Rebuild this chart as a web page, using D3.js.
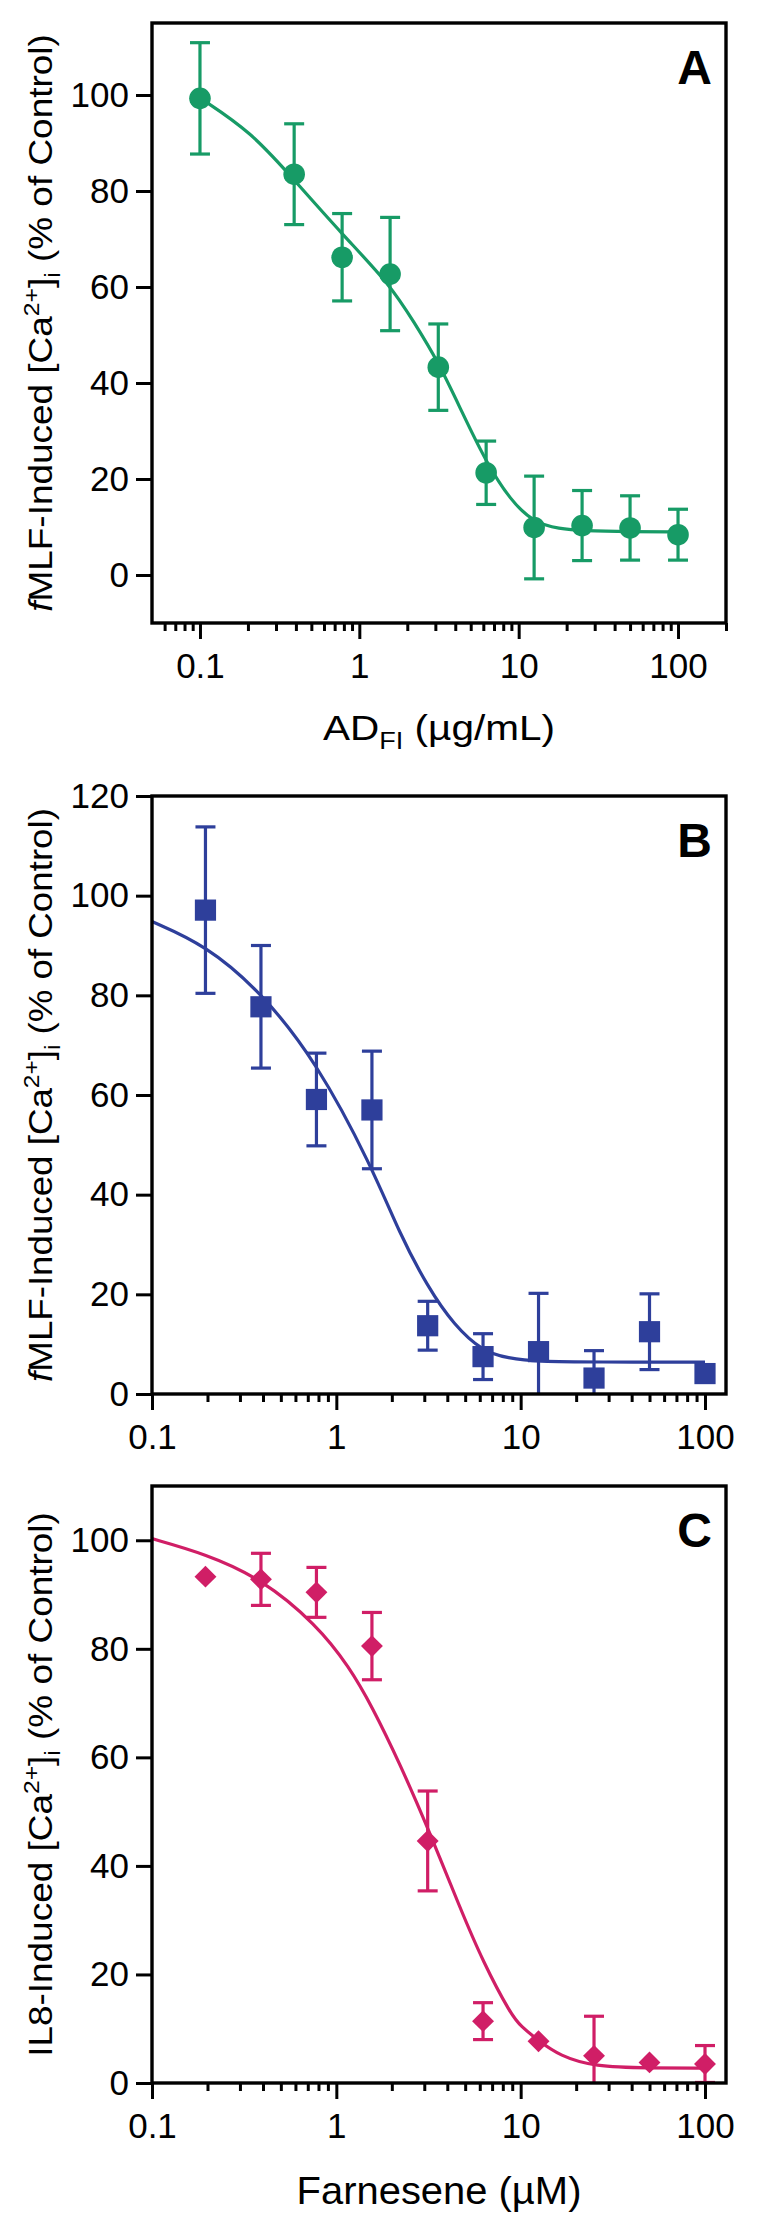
<!DOCTYPE html>
<html>
<head>
<meta charset="utf-8">
<script src="https://cdn.jsdelivr.net/npm/d3@7"></script>
<style>
  body { margin: 0; background: #fff; }
  text { font-family: "Liberation Sans", Arial, Helvetica, sans-serif; }
</style>
</head>
<body>
<div id="chart"></div>
<script>
// Panel A - AD_FI, fMLF
let concA = [0.1, 0.39, 0.78, 1.56, 3.13, 6.25, 12.5, 25, 50, 100];
let meanA = [99.3, 83.5, 66.2, 62.7, 43.3, 21.3, 9.9, 10.3, 9.8, 8.4];
let semA  = [11.6, 10.5, 9.1, 11.8, 9.0, 6.6, 10.7, 7.3, 6.7, 5.3];
let fitAx = [0.1, 0.21, 0.39, 0.78, 1.56, 2.2, 3.13, 4.4, 6.25, 8.9, 12.5, 18, 25, 50, 100];
let fitAy = [99.4, 92.3, 82.3, 71.0, 60.5, 52.7, 44.4, 34.0, 23.5, 15.5, 10.9, 9.6, 9.2, 9.0, 9.0];

// Panel B - fMLF
let concB = [0.195, 0.39, 0.78, 1.56, 3.13, 6.25, 12.5, 25, 50, 100];
let meanB = [97.1, 77.7, 59.1, 57.0, 13.7, 7.5, 8.5, 3.2, 12.5, 4.1];
let semB  = [16.7, 12.3, 9.3, 11.8, 4.9, 4.6, 11.7, 5.5, 7.6, 1.5];
let fitBx = [0.1, 0.195, 0.39, 0.78, 1.56, 2.2, 3.13, 4.35, 6.25, 8.5, 12.5, 25, 100];
let fitBy = [94.8, 90.1, 80.7, 66.7, 45.6, 32.2, 21.5, 13.8, 8.5, 7.2, 6.5, 6.4, 6.4];

// Panel C - Farnesene, IL8
let concC = [0.195, 0.39, 0.78, 1.56, 3.13, 6.25, 12.5, 25, 50, 100];
let meanC = [93.3, 92.8, 90.4, 80.5, 44.6, 11.4, 7.7, 5.0, 3.8, 3.5];
let semC  = [0, 4.8, 4.6, 6.2, 9.2, 3.4, 0, 7.3, 0, 3.4];
let fitCx = [0.1, 0.195, 0.39, 0.78, 1.18, 1.56, 2.2, 3.13, 4.67, 6.25, 8.9, 10, 12.5, 16.3, 25, 50, 100];
let fitCy = [100.3, 97.5, 93.0, 84.5, 76.6, 69.4, 59.0, 47.1, 32.4, 22.3, 12.5, 10.5, 7.8, 5.0, 3.0, 2.75, 2.75];

// ticks
let xMajor = [0.1, 1, 10, 100];
let xMajorLabels = ['0.1', '1', '10', '100'];
let xMinorA = [0.06, 0.07, 0.08, 0.09, 0.2, 0.3, 0.4, 0.5, 0.6, 0.7, 0.8, 0.9,
               2, 3, 4, 5, 6, 7, 8, 9, 20, 30, 40, 50, 60, 70, 80, 90, 200];
let xMinorBC = [0.2, 0.3, 0.4, 0.5, 0.6, 0.7, 0.8, 0.9,
                2, 3, 4, 5, 6, 7, 8, 9, 20, 30, 40, 50, 60, 70, 80, 90];
let yTicksA = [0, 20, 40, 60, 80, 100];
let yTicksB = [0, 20, 40, 60, 80, 100, 120];
let yTicksC = [0, 20, 40, 60, 80, 100];

let chart_width = 758;
let chart_height = 2224;
let left = 152, right = 726;

let svg = d3.select('#chart')
    .append('svg')
    .attr('width', chart_width)
    .attr('height', chart_height);

let panels = [
    { id: 'A', top: 23, bottom: 623, xDomain: [0.05, 200], yDomain: [-10, 115],
      conc: concA, mean: meanA, sem: semA, fitX: fitAx, fitY: fitAy,
      minor: xMinorA, yTicks: yTicksA, color: '#179b66', marker: 'circle',
      yTitle: [['f', 'italic'], ['MLF-Induced [Ca'], ['2+', 'sup'], [']'], ['i', 'sub'], [' (% of Control)']],
      yTitleLen: 578,
      xTitle: [['AD'], ['FI', 'sub'], [' (\u00b5g/mL)']], xTitleSize: 36, xTitleLen: 232, xTitleY: 740 },
    { id: 'B', top: 796, bottom: 1394, xDomain: [0.1, 130], yDomain: [0, 120],
      conc: concB, mean: meanB, sem: semB, fitX: fitBx, fitY: fitBy,
      minor: xMinorBC, yTicks: yTicksB, color: '#2e3f9b', marker: 'square',
      yTitle: [['f', 'italic'], ['MLF-Induced [Ca'], ['2+', 'sup'], [']'], ['i', 'sub'], [' (% of Control)']],
      yTitleLen: 574, xTitle: null },
    { id: 'C', top: 1486, bottom: 2083, xDomain: [0.1, 130], yDomain: [0, 110],
      conc: concC, mean: meanC, sem: semC, fitX: fitCx, fitY: fitCy,
      minor: xMinorBC, yTicks: yTicksC, color: '#d01e66', marker: 'diamond',
      yTitle: [['IL8-Induced [Ca'], ['2+', 'sup'], [']'], ['i', 'sub'], [' (% of Control)']],
      yTitleLen: 545,
      xTitle: [['Farnesene (\u00b5M)']], xTitleSize: 38, xTitleLen: 285, xTitleY: 2204 }
];

// write rich text parts (italic / superscript / subscript) into a text element
function richText(sel, parts, size) {
    let small = Math.round(size * 0.66);
    let shift = 0;
    parts.forEach(function(p) {
        let t = sel.append('tspan').text(p[0]);
        let target = 0;
        if (p[1] === 'sup') { target = -Math.round(size * 0.4); t.attr('font-size', small); }
        else if (p[1] === 'sub') { target = Math.round(size * 0.24); t.attr('font-size', small); }
        else if (p[1] === 'italic') { t.attr('font-style', 'italic'); }
        if (target !== shift) { t.attr('dy', target - shift); shift = target; }
    });
}

panels.forEach(function(p) {
    let x_scale = d3.scaleLog().domain(p.xDomain).range([left, right]);
    let y_scale = d3.scaleLinear().domain(p.yDomain).range([p.bottom, p.top]);
    let g = svg.append('g');

    let clipId = 'clip' + p.id;
    g.append('clipPath').attr('id', clipId)
        .append('rect')
        .attr('x', left).attr('y', p.top)
        .attr('width', right - left).attr('height', p.bottom - p.top);

    let plot = g.append('g').attr('clip-path', 'url(#' + clipId + ')');
    let pts = p.conc.map(function(c, i) { return { x: c, y: p.mean[i], e: p.sem[i] }; })
        .filter(function(d) { return d.e > 0; });

    // error bars
    let eb = plot.selectAll('g.eb')
        .data(pts)
        .enter()
        .append('g')
        .attr('stroke', p.color)
        .attr('stroke-width', 3.2)
        .attr('fill', 'none');
    eb.append('line')
        .attr('x1', function(d) { return x_scale(d.x); })
        .attr('x2', function(d) { return x_scale(d.x); })
        .attr('y1', function(d) { return y_scale(d.y - d.e); })
        .attr('y2', function(d) { return y_scale(d.y + d.e); });
    [-1, 1].forEach(function(s) {
        eb.append('line')
            .attr('x1', function(d) { return x_scale(d.x) - 10; })
            .attr('x2', function(d) { return x_scale(d.x) + 10; })
            .attr('y1', function(d) { return y_scale(d.y + s * d.e); })
            .attr('y2', function(d) { return y_scale(d.y + s * d.e); });
    });

    // fitted curve
    let line = d3.line()
        .x(function(d) { return x_scale(d[0]); })
        .y(function(d) { return y_scale(d[1]); })
        .curve(d3.curveBasis);
    plot.append('path')
        .datum(d3.zip(p.fitX, p.fitY))
        .attr('d', line)
        .attr('fill', 'none')
        .attr('stroke', p.color)
        .attr('stroke-width', 3.2);

    // markers
    let mk = g.selectAll('.mk')
        .data(d3.zip(p.conc, p.mean))
        .enter();
    if (p.marker === 'circle') {
        mk.append('circle')
            .attr('cx', function(d) { return x_scale(d[0]); })
            .attr('cy', function(d) { return y_scale(d[1]); })
            .attr('r', 10.8)
            .attr('fill', p.color);
    } else if (p.marker === 'square') {
        mk.append('rect')
            .attr('x', function(d) { return x_scale(d[0]) - 10.6; })
            .attr('y', function(d) { return y_scale(d[1]) - 10.6; })
            .attr('width', 21.2).attr('height', 21.2)
            .attr('fill', p.color);
    } else {
        mk.append('path')
            .attr('d', d3.symbol(d3.symbolSquare, 240))
            .attr('transform', function(d) {
                return 'translate(' + x_scale(d[0]) + ',' + y_scale(d[1]) + ') rotate(45)';
            })
            .attr('fill', p.color);
    }

    // axes
    let xAxis = g.append('g')
        .attr('transform', 'translate(0,' + p.bottom + ')')
        .call(d3.axisBottom(x_scale)
            .tickValues(xMajor)
            .tickFormat(function(d, i) { return xMajorLabels[i]; })
            .tickSize(16)
            .tickPadding(14));
    g.append('g')
        .attr('transform', 'translate(0,' + p.bottom + ')')
        .call(d3.axisBottom(x_scale).tickValues(p.minor).tickFormat('').tickSize(8))
        .call(function(a) { a.select('.domain').remove(); })
        .selectAll('line').attr('stroke-width', 3);
    let yAxis = g.append('g')
        .attr('transform', 'translate(' + left + ',0)')
        .call(d3.axisLeft(y_scale).tickValues(p.yTicks).tickSize(16).tickPadding(7));
    [xAxis, yAxis].forEach(function(a) {
        a.select('.domain').remove();
        a.selectAll('line').attr('stroke-width', 3);
        a.selectAll('text').attr('font-size', 35).attr('fill', '#000')
            .attr('font-family', '"Liberation Sans", Arial, sans-serif');
    });

    // frame
    g.append('rect')
        .attr('x', left).attr('y', p.top)
        .attr('width', right - left).attr('height', p.bottom - p.top)
        .attr('fill', 'none')
        .attr('stroke', '#000')
        .attr('stroke-width', 3.4);

    // panel letter
    g.append('text')
        .text(p.id)
        .attr('x', 712)
        .attr('y', p.top + 61)
        .attr('text-anchor', 'end')
        .attr('font-size', 48)
        .attr('font-weight', 'bold');

    // y title
    let yt = g.append('text')
        .attr('text-anchor', 'middle')
        .attr('font-size', 33)
        .attr('transform', 'translate(52,' + (p.top + p.bottom) / 2 + ') rotate(-90)');
    richText(yt, p.yTitle, 33);
    let ylen = yt.node().getComputedTextLength();
    yt.attr('transform', 'translate(52,' + (p.top + p.bottom) / 2 + ') rotate(-90) scale(' + (p.yTitleLen / ylen) + ',1)');

    // x title
    if (p.xTitle) {
        let xt = g.append('text')
            .attr('text-anchor', 'middle')
            .attr('font-size', p.xTitleSize)
            .attr('transform', 'translate(' + (left + right) / 2 + ',' + p.xTitleY + ')');
        richText(xt, p.xTitle, p.xTitleSize);
        let xlen = xt.node().getComputedTextLength();
        xt.attr('transform', 'translate(' + (left + right) / 2 + ',' + p.xTitleY + ') scale(' + (p.xTitleLen / xlen) + ',1)');
    }
});
</script>
</body>
</html>
